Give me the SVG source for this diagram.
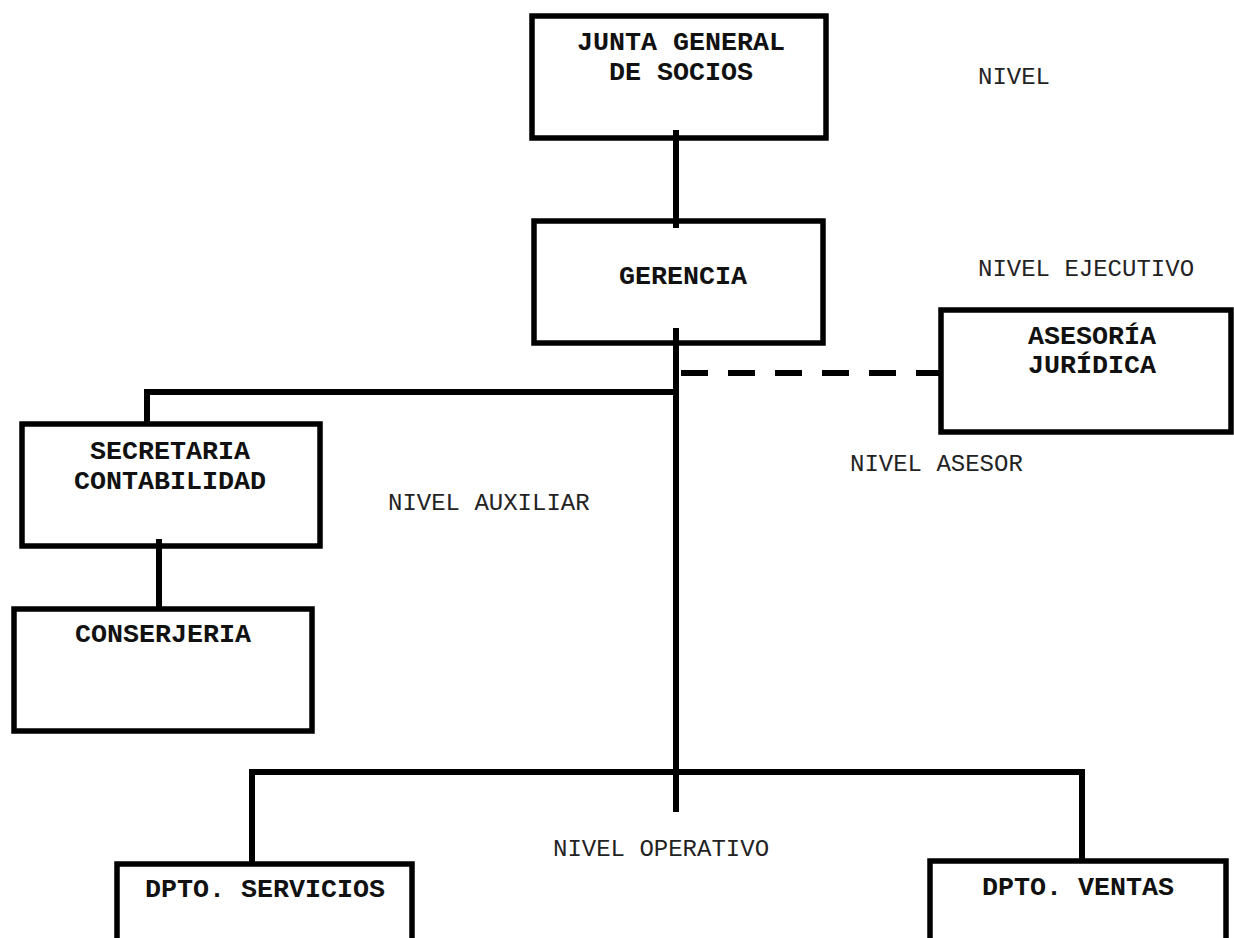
<svg xmlns="http://www.w3.org/2000/svg" width="1234" height="938" viewBox="0 0 1234 938">
<style>
.box{fill:#fff;stroke:#000;stroke-width:5.5}
.t{font-family:"Liberation Mono","Courier New",monospace;font-weight:bold;font-size:26.7px;fill:#111;text-anchor:middle}
.lv{font-family:"Liberation Mono","Courier New",monospace;font-size:24px;fill:#222}
.c{stroke:#000;stroke-width:6;fill:none}
.d{stroke:#000;stroke-width:6;fill:none;stroke-dasharray:27 20}
</style>
<rect width="1234" height="938" fill="#fff"/>
<g id="junta"><rect class="box" x="532" y="16" width="294" height="122"/><text class="t" x="681" y="50">JUNTA GENERAL</text><text class="t" x="681" y="80">DE SOCIOS</text></g>
<g id="gerencia"><rect class="box" x="534" y="221" width="289" height="122"/><text class="t" x="683" y="284">GERENCIA</text></g>
<g id="asesoria"><rect class="box" x="941" y="310" width="290" height="122"/><text class="t" x="1092" y="344">ASESORÍA</text><text class="t" x="1092" y="373">JURÍDICA</text></g>
<g id="secretaria"><rect class="box" x="22" y="424" width="298" height="122"/><text class="t" x="170" y="459">SECRETARIA</text><text class="t" x="170" y="489">CONTABILIDAD</text></g>
<g id="conserjeria"><rect class="box" x="14" y="609" width="298" height="122"/><text class="t" x="163" y="642">CONSERJERIA</text></g>
<g id="servicios"><rect class="box" x="117" y="864" width="295" height="100"/><text class="t" x="265" y="897">DPTO. SERVICIOS</text></g>
<g id="ventas"><rect class="box" x="930" y="861" width="296" height="100"/><text class="t" x="1078" y="895">DPTO. VENTAS</text></g>
<g id="levels">
<text class="lv" x="978" y="84">NIVEL</text>
<text class="lv" x="978" y="276">NIVEL EJECUTIVO</text>
<text class="lv" x="850" y="471">NIVEL ASESOR</text>
<text class="lv" x="388" y="510">NIVEL AUXILIAR</text>
<text class="lv" x="553" y="856">NIVEL OPERATIVO</text>
</g>
<g id="connectors">
<path class="c" d="M676 130V228"/>
<path class="c" d="M676 328V812"/>
<path class="c" d="M676 392H147V424"/>
<path class="d" d="M681 373H941"/>
<path class="c" d="M159 539V609"/>
<path class="c" d="M252 864V772H1082V861"/>
</g>
</svg>
